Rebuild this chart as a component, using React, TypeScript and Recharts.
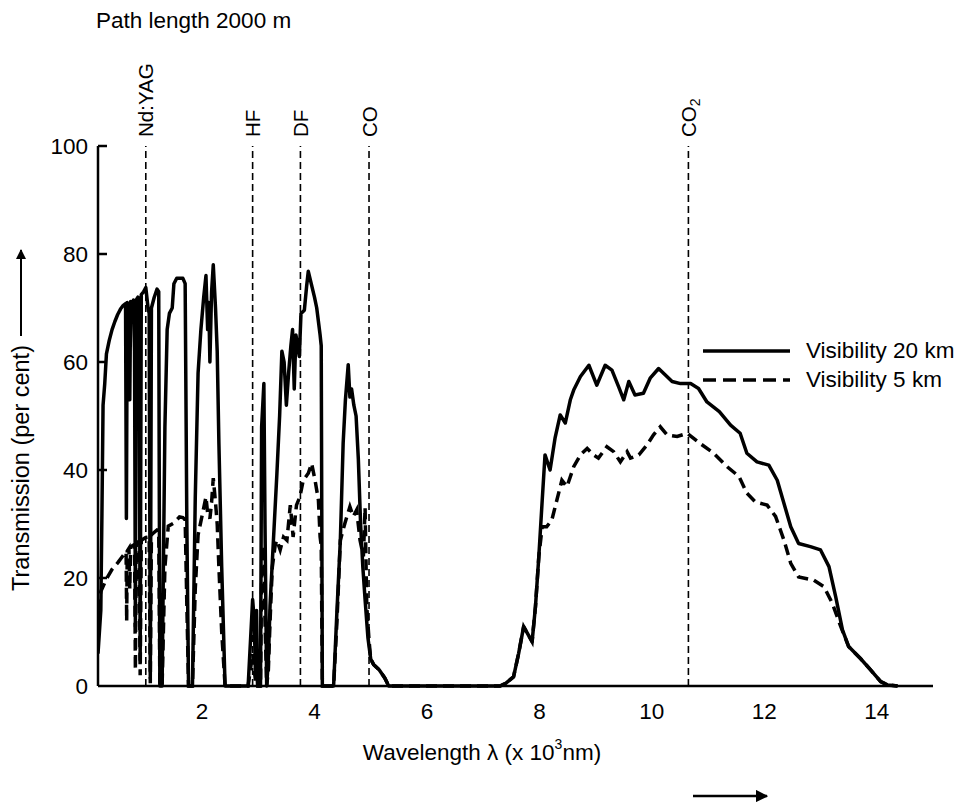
import React from 'react';
import { LineChart, Line, XAxis, YAxis, ReferenceLine, Legend } from 'recharts';

const FONT = '"Liberation Sans", Arial, Helvetica, sans-serif';

// Visibility 20 km (solid)
const wavelength20 = [
  0.15, 0.2, 0.22, 0.24, 0.27, 0.3, 0.35, 0.4, 0.45, 0.5, 0.55, 0.6, 0.64, 0.655, 0.67, 0.7, 0.715, 0.73, 0.76, 0.78,
  0.8, 0.815, 0.83, 0.86, 0.88, 0.9, 0.92, 0.96, 1.0, 1.04, 1.06, 1.08, 1.1, 1.15, 1.2, 1.23, 1.25, 1.29, 1.34, 1.38,
  1.42, 1.47, 1.5, 1.55, 1.66, 1.7, 1.73, 1.76, 1.83, 1.88, 1.93, 1.98, 2.03, 2.07, 2.1, 2.12, 2.14, 2.17, 2.2, 2.24,
  2.27, 2.3, 2.35, 2.41, 2.82, 2.86, 2.9, 2.93, 2.95, 2.97, 2.99, 3.04, 3.06, 3.1, 3.12, 3.15, 3.18, 3.21, 3.27, 3.33,
  3.38, 3.42, 3.46, 3.5, 3.54, 3.58, 3.61, 3.64, 3.67, 3.7, 3.73, 3.76, 3.82, 3.86, 3.89, 3.94, 4.0, 4.04, 4.1, 4.12,
  4.14, 4.34, 4.4, 4.46, 4.51, 4.55, 4.6, 4.63, 4.66, 4.7, 4.74, 4.78, 4.82, 4.86, 4.9, 4.95, 5.0, 5.05, 5.15, 5.25,
  5.32, 7.3, 7.4, 7.54, 7.63, 7.72, 7.8, 7.87, 7.93, 7.99, 8.05, 8.1, 8.19, 8.28, 8.37, 8.46, 8.55, 8.61, 8.73, 8.88,
  9.02, 9.17, 9.29, 9.41, 9.5, 9.59, 9.7, 9.85, 9.97, 10.12, 10.24, 10.36, 10.51, 10.69, 10.83, 10.98, 11.2, 11.4, 11.57, 11.69,
  11.87, 12.08, 12.23, 12.35, 12.47, 12.61, 12.82, 13.0, 13.15, 13.27, 13.39, 13.5, 13.71, 13.89, 14.07, 14.19, 14.37,
];
const transmission20 = [
  6, 14, 32, 52, 56, 61.5, 64, 66, 67.5, 68.8, 69.8, 70.5, 70.8, 31, 71, 70.5, 53, 71.2, 68, 71.5,
  62, 11, 71.5, 72, 68, 4.8, 72.5, 73, 73.8, 70, 69, 1.5, 70, 72, 73.5, 73, 0, 0, 48, 66,
  69, 70, 74.5, 75.5, 75.5, 74.5, 30, 0, 0, 35, 58, 66, 72, 76, 66, 71, 60, 73, 78, 70,
  62, 45, 22, 0, 0, 8, 16, 12, 2, 14, 0, 0, 48, 56, 30, 0, 5, 15, 27, 39,
  50, 62, 60, 52, 58, 63, 66, 55, 65, 63, 61, 69, 69.6, 74, 76.8, 74.6, 72, 70, 65, 63,
  0, 0, 14, 27, 45, 53, 59.5, 53.5, 55, 52, 50, 42, 30, 22, 16, 9, 5, 4, 3, 1.5,
  0, 0, 0.5, 1.7, 6, 11, 9.5, 8.2, 14.7, 24, 34.4, 42.8, 40, 46, 50.2, 48.7, 53, 54.8, 57.3, 59.4,
  55.7, 59.4, 58.5, 55.4, 53, 56.4, 53.9, 54.2, 57, 58.8, 57.6, 56.4, 56, 56, 55.1, 52.6, 50.8, 48.3, 46.8, 43.1,
  41.5, 40.9, 38.1, 33.8, 29.5, 26.4, 25.8, 25.2, 22.1, 16.5, 10.4, 7.3, 5.1, 3, 0.8, 0.2, 0,
];

// Visibility 5 km (dashed)
const wavelength5 = [
  0.15, 0.2, 0.3, 0.4, 0.5, 0.6, 0.65, 0.66, 0.67, 0.7, 0.715, 0.73, 0.8, 0.815, 0.83, 0.88, 0.9, 0.92, 1.0, 1.06,
  1.08, 1.1, 1.2, 1.23, 1.25, 1.29, 1.34, 1.4, 1.5, 1.6, 1.66, 1.7, 1.73, 1.76, 1.83, 1.88, 1.93, 1.98, 2.03, 2.07,
  2.1, 2.14, 2.17, 2.2, 2.24, 2.27, 2.3, 2.35, 2.41, 2.82, 2.9, 2.95, 2.97, 2.99, 3.04, 3.06, 3.1, 3.12, 3.15, 3.18,
  3.21, 3.25, 3.3, 3.33, 3.39, 3.45, 3.51, 3.57, 3.62, 3.68, 3.74, 3.8, 3.89, 3.95, 4.01, 4.07, 4.1, 4.12, 4.14, 4.34,
  4.4, 4.46, 4.54, 4.63, 4.69, 4.75, 4.81, 4.87, 4.9, 4.93, 4.97, 5.0, 5.05, 5.15, 5.25, 5.32, 7.3, 7.4, 7.54, 7.63,
  7.72, 7.8, 7.87, 7.93, 7.99, 8.05, 8.13, 8.22, 8.31, 8.4, 8.49, 8.61, 8.73, 8.85, 8.96, 9.05, 9.2, 9.32, 9.44, 9.56,
  9.62, 9.77, 9.91, 10.03, 10.15, 10.27, 10.45, 10.63, 10.86, 11.1, 11.34, 11.55, 11.69, 11.84, 12.05, 12.2, 12.35, 12.47, 12.61, 12.88,
  13.06, 13.21, 13.36, 13.5, 13.71, 13.89, 14.07, 14.19, 14.37,
];
const transmission5 = [
  14, 17.5, 19.8, 21.6, 22.8, 24.2, 24.8, 12, 25, 25.5, 18, 25.8, 26.2, 3, 26.4, 26.8, 2, 27, 27.5, 27.6,
  0.5, 28, 28.9, 28.8, 0, 0, 22, 29.6, 30.2, 31.3, 31.2, 30.8, 15, 0, 0, 18, 28, 30.5, 33, 35,
  32, 31, 34, 38.5, 34, 30, 22, 10, 0, 0, 6, 1, 5, 0, 0, 20, 26, 12, 0, 3,
  12, 22, 26, 27, 25.2, 27.6, 27, 33.5, 27.6, 33.5, 35, 38.1, 39.4, 41.2, 38.1, 34.4, 27.6, 26, 0, 0,
  12, 27, 30.1, 33.2, 31.4, 32.6, 27, 24, 33, 14.7, 8.5, 5, 4, 3, 1.5, 0, 0, 0.5, 1.7, 6,
  11, 9.5, 8.2, 14.7, 24, 29.5, 29.5, 30.7, 34.4, 38.1, 36.9, 40.6, 42.8, 44, 42.8, 42.2, 44.3, 43.4, 41.5, 43.4,
  42.2, 42.8, 44.6, 46.5, 48, 46.5, 46.2, 46.8, 44.9, 43.1, 40.6, 38.8, 35.7, 34.1, 33.5, 31.4, 27, 22.7, 20.2, 19.6,
  18.4, 15.3, 11, 7.3, 5.1, 3, 0.8, 0.2, 0,
];

const xTicks = [2, 4, 6, 8, 10, 12, 14];
const yTicks = [0, 20, 40, 60, 80, 100];
const laserNames = ['Nd:YAG', 'HF', 'DF', 'CO', 'CO2'];
const laserWavelengths = [1.0, 2.9, 3.75, 4.97, 10.65];
const seriesNames = ['Visibility 20 km', 'Visibility 5 km'];

const data20 = wavelength20.map((x, i) => ({ x, y: transmission20[i] }));
const data5 = wavelength5.map((x, i) => ({ x, y: transmission5[i] }));

const YTick = (props: any) => {
  const { x, y, payload } = props;
  return (
    <g>
      {payload.value !== 0 && (
        <line x1={x} y1={y} x2={x + 9} y2={y} stroke="#000" strokeWidth={2.5} />
      )}
      <text x={x - 10} y={y} textAnchor="end" dominantBaseline="central" fill="#000" fontSize={22.5} fontFamily={FONT}>
        {payload.value}
      </text>
    </g>
  );
};

const makeLaserLabel = (name: string) => (props: any) => {
  const vb = props.viewBox || {};
  const lx = vb.x;
  const ly = vb.y - 9;
  const sub = name === 'CO2';
  return (
    <text
      x={lx}
      y={ly}
      transform={`rotate(-90 ${lx} ${ly})`}
      textAnchor="start"
      dominantBaseline="central"
      fill="#000"
      fontSize={20.5}
      fontFamily={FONT}
    >
      {sub ? (
        <>
          CO<tspan dy={7} fontSize={14}>2</tspan>
        </>
      ) : (
        name
      )}
    </text>
  );
};

const LegendContent = (props: any) => {
  const payload = props.payload || [];
  return (
    <div style={{ fontFamily: FONT, fontSize: 22.5, color: '#000' }}>
      {payload.map((entry: any, i: number) => (
        <div key={entry.value} style={{ display: 'flex', alignItems: 'center', height: 29 }}>
          <svg width={90} height={10} style={{ display: 'block' }}>
            <line
              x1={1}
              y1={5}
              x2={88}
              y2={5}
              stroke="#000"
              strokeWidth={3.5}
              strokeDasharray={i === 1 ? '13 7' : undefined}
            />
          </svg>
          <span style={{ marginLeft: 14, lineHeight: '22px' }}>{entry.value}</span>
        </div>
      ))}
    </div>
  );
};

export default function App() {
  return (
    <div style={{ position: 'absolute', left: 0, top: 0, width: 960, height: 805, background: '#fff' }}>
      <LineChart width={960} height={805} margin={{ top: 146, right: 27, bottom: 89, left: 38 }}>
        <XAxis
          type="number"
          dataKey="x"
          domain={[0.15, 15]}
          allowDataOverflow
          ticks={xTicks}
          tickLine={false}
          tickMargin={11}
          height={30}
          axisLine={{ stroke: '#000', strokeWidth: 2.5 }}
          tick={{ fill: '#000', fontSize: 22.5, fontFamily: FONT }}
        />
        <YAxis
          type="number"
          domain={[0, 100]}
          ticks={yTicks}
          width={60}
          tickLine={false}
          tickSize={0}
          tickMargin={0}
          axisLine={{ stroke: '#000', strokeWidth: 2.5 }}
          tick={<YTick />}
        />
        {laserNames.map((name, i) => (
          <ReferenceLine
            key={name}
            x={laserWavelengths[i]}
            stroke="#000"
            strokeWidth={1.6}
            strokeDasharray="7 4"
            label={makeLaserLabel(name)}
          />
        ))}
        <Line
          data={data20}
          dataKey="y"
          name={seriesNames[0]}
          type="linear"
          stroke="#000"
          strokeWidth={3.5}
          strokeLinejoin="round"
          dot={false}
          isAnimationActive={false}
        />
        <Line
          data={data5}
          dataKey="y"
          name={seriesNames[1]}
          type="linear"
          stroke="#000"
          strokeWidth={3.5}
          strokeDasharray="11 6"
          dot={false}
          isAnimationActive={false}
        />
        <Legend
          layout="horizontal"
          verticalAlign="middle"
          align="center"
          content={<LegendContent />}
          wrapperStyle={{ left: 702, top: 336, width: 258, height: 60 }}
        />
      </LineChart>
      <svg
        width={960}
        height={805}
        style={{ position: 'absolute', left: 0, top: 0, pointerEvents: 'none' }}
      >
        <defs>
          <marker id="ah" viewBox="0 0 10 10" refX="9" refY="5" markerWidth="5" markerHeight="5" orient="auto-start-reverse">
            <path d="M0,0 L10,5 L0,10 z" fill="#000" />
          </marker>
        </defs>
        <text x={96} y={20} dominantBaseline="central" fontSize={22.5} fontFamily={FONT} fill="#000">
          Path length 2000 m
        </text>
        <text
          x={21}
          y={468}
          transform="rotate(-90 21 468)"
          textAnchor="middle"
          dominantBaseline="central"
          fontSize={23.5}
          fontFamily={FONT}
          fill="#000"
        >
          Transmission (per cent)
        </text>
        <line x1={21} y1={336} x2={21} y2={250} stroke="#000" strokeWidth={2} markerEnd="url(#ah)" />
        <text x={482} y={752} textAnchor="middle" dominantBaseline="central" fontSize={22.5} fontFamily={FONT} fill="#000">
          Wavelength λ (x 10<tspan dy={-8} fontSize={14}>3</tspan>
          <tspan dy={8}>nm)</tspan>
        </text>
        <line x1={693} y1={796} x2={767} y2={796} stroke="#000" strokeWidth={2.5} markerEnd="url(#ah)" />
      </svg>
    </div>
  );
}
